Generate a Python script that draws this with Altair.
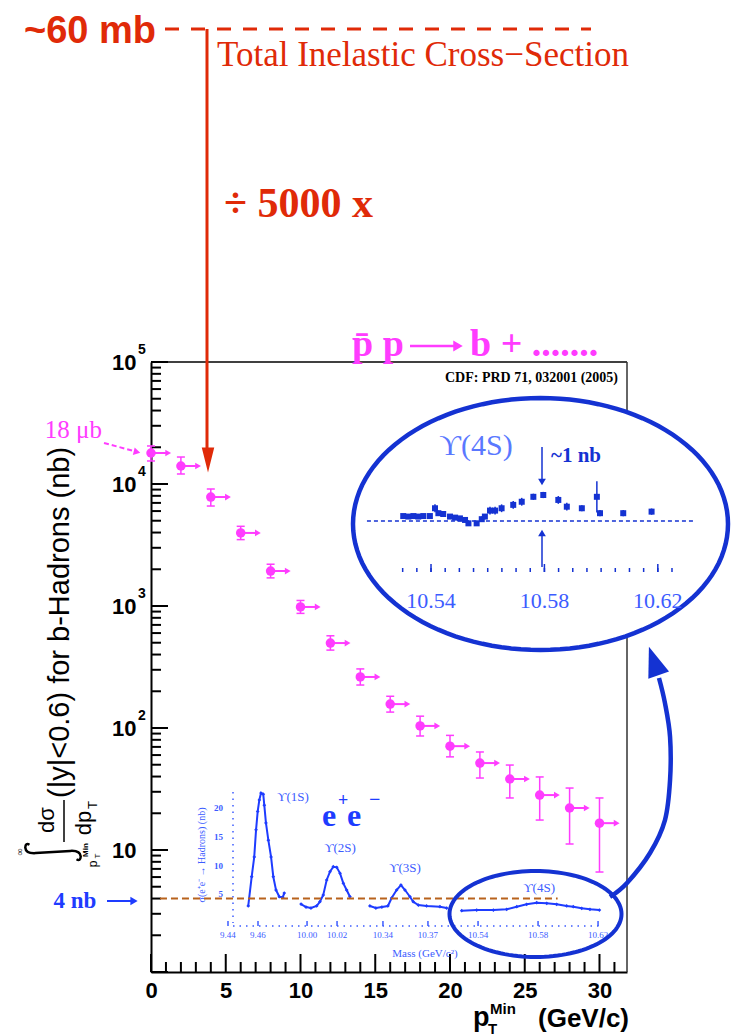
import math
import altair as alt
import pandas as pd

OX, OY, W, H = 151, 362, 476, 610
PAGE_W, PAGE_H = 731, 1036

# ---------------- main CDF measurement ----------------
pt_min = [0, 2, 4, 6, 8, 10, 12, 14, 16, 18, 20, 22, 24, 26, 28, 30]
xsec_nb = [17950, 14050, 7820, 3970, 1935, 982, 497, 262, 157, 104, 71, 51.6, 38.2, 28.2, 22.1, 16.6]
xsec_hi = [20500, 16640, 9100, 4500, 2200, 1110, 570, 305, 182, 125, 87, 63.6, 49.7, 39.7, 32.2, 26.7]
xsec_lo = [15440, 12080, 6600, 3500, 1700, 870, 435, 225, 135, 86, 58, 38.9, 26.7, 17.6, 11.2, 6.6]

x_major = [0, 5, 10, 15, 20, 25, 30]
x_minor = [1, 2, 3, 4, 6, 7, 8, 9, 11, 12, 13, 14, 16, 17, 18, 19, 21, 22, 23, 24, 26, 27, 28, 29, 31]
y_major = [1, 10, 100, 1000, 10000, 100000]
y_minor = [2, 3, 4, 5, 6, 7, 8, 9, 20, 30, 40, 50, 60, 70, 80, 90,
           200, 300, 400, 500, 600, 700, 800, 900,
           2000, 3000, 4000, 5000, 6000, 7000, 8000, 9000,
           20000, 30000, 40000, 50000, 60000, 70000, 80000, 90000]
y_label_vals = [10, 100, 1000, 10000, 100000]
y_exp_vals = [100, 1000, 10000, 100000]
y_exp_text = ["2", "3", "4", "5"]

# ---------------- e+e- inset (CLEO-like scan) ----------------
seg1_mass = [9.4535, 9.4558, 9.4575, 9.4587, 9.4598, 9.4609, 9.4620, 9.4635, 9.4642, 9.4653,
             9.4669, 9.4687, 9.4702, 9.4720, 9.4742, 9.4765, 9.4775]
seg1_sig = [2.96, 8.05, 11.5, 16.2, 19.4, 21.4, 22.6, 22.4, 20.5, 17.4, 14.4, 11.5, 8.05, 5.74, 4.57, 4.47, 5.2]
seg2_mass = [9.9960, 9.9993, 10.0026, 10.0064, 10.0086, 10.0108, 10.0131, 10.0153, 10.0175, 10.0198,
             10.0220, 10.0242, 10.0264, 10.0286]
seg2_sig = [3.30, 2.78, 2.61, 2.96, 3.70, 4.87, 7.48, 8.92, 9.79, 9.69, 8.64, 6.90, 5.74, 4.57]
seg3_mass = [10.3313, 10.3353, 10.3393, 10.3433, 10.3458, 10.3491, 10.3520, 10.3547, 10.3580, 10.3602,
             10.3636, 10.3691, 10.3780, 10.3825]
seg3_sig = [2.96, 2.61, 2.78, 2.96, 4.35, 5.74, 6.61, 5.74, 4.57, 3.70, 3.13, 2.96, 2.83, 2.61]
seg4_mass = [10.5291, 10.5391, 10.5502, 10.5591, 10.5658, 10.5724, 10.5791, 10.5858, 10.5924, 10.5991,
             10.6035, 10.6091, 10.6146, 10.6209]
seg4_sig = [2.14, 2.26, 2.26, 2.38, 2.83, 3.25, 3.53, 3.43, 3.25, 2.96, 2.83, 2.56, 2.38, 2.26]
seg_shift = {1: 0.0, 2: 0.5073, 3: 0.7967, 4: 0.9333}   # broken mass axis
inset_tick_mass = [9.44, 9.46, 10.00, 10.02, 10.34, 10.37, 10.54, 10.58, 10.62]
inset_tick_seg = [1, 1, 2, 2, 3, 3, 4, 4, 4]
inset_tick_text = ["9.44", "9.46", "10.00", "10.02", "10.34", "10.37", "10.54", "10.58", "10.62"]
inset_y_vals = [5, 10, 15, 20]
ups_names = ["ϒ(1S)", "ϒ(2S)", "ϒ(3S)", "ϒ(4S)"]
ups_label_mass = [9.4833, 10.0220, 10.3547, 10.5807]
ups_label_seg = [1, 2, 3, 4]
ups_label_sig = [21.9, 13.0, 9.6, 6.1]

# ---------------- zoomed Upsilon(4S) ----------------
z_mass = [10.5302, 10.5320, 10.5338, 10.5355, 10.5373, 10.5396, 10.5414, 10.5426, 10.5443, 10.5467,
          10.5485, 10.5502, 10.5520, 10.5532, 10.5561, 10.5579, 10.5590, 10.5608, 10.5626, 10.5649,
          10.5690, 10.5720, 10.5761, 10.5796, 10.5849, 10.5879, 10.5932, 10.5985, 10.5996, 10.6078, 10.6178]
z_sig = [4.19, 4.17, 4.19, 4.17, 4.19, 4.19, 4.49, 4.30, 4.27, 4.17, 4.13, 4.10, 4.04, 3.91, 3.91, 4.07,
         4.17, 4.40, 4.40, 4.49, 4.62, 4.74, 4.93, 5.00, 4.81, 4.55, 4.49, 4.93, 4.30, 4.30, 4.36]
z_err = [0.08, 0.08, 0.08, 0.08, 0.08, 0.08, 0.15, 0.1, 0.08, 0.08, 0.08, 0.08, 0.08, 0.1, 0.1, 0.1,
         0.1, 0.15, 0.15, 0.15, 0.15, 0.15, 0.12, 0.12, 0.15, 0.15, 0.12, 0.6, 0.12, 0.12, 0.12]
z_ticks = [10.530, 10.535, 10.540, 10.545, 10.550, 10.555, 10.560, 10.565, 10.570, 10.575,
           10.580, 10.585, 10.590, 10.595, 10.600, 10.605, 10.610, 10.615, 10.620, 10.625]
z_major = [10.54, 10.58, 10.62]
z_labels = ["10.54", "10.58", "10.62"]
z_base = 4.0

# connecting arrow (in main-plot units)
conn_pt = [30.70, 31.84, 33.38, 34.38, 34.72, 34.72, 34.38, 33.98]
conn_nb = [4.12, 5.37, 9.45, 17.6, 37.5, 84.4, 160, 257]

# ---------------- style ----------------
MAG = "#ff3cff"
RED = "#e02a08"
BLUE_E = "#1432d2"
BLUE_C = "#1e3cff"
BLUE_T = "#3c5cff"
BROWN = "#b8621c"
SANS = "Liberation Sans"
SERIF = "Liberation Serif"

XS = alt.Scale(domain=[0, 31.84], nice=False, zero=False)
YS = alt.Scale(type="log", domain=[1, 100000], nice=False)
XI = alt.Scale(domain=[9.38867, 9.70600], nice=False, zero=False)
YI = alt.Scale(domain=[-8.52, 97.57], nice=False, zero=False)
XB = alt.Scale(domain=[10.44123, 10.60913], nice=False, zero=False)
YB = alt.Scale(domain=[-13.346, 10.115], nice=False, zero=False)

ONE = pd.DataFrame({"k": [0]})


def X(f, s):
    return alt.X(f, type="quantitative", scale=s, axis=None)


def Y(f, s):
    return alt.Y(f, type="quantitative", scale=s, axis=None)


def pv(x):
    return alt.value(x - OX)


def qv(y):
    return alt.value(y - OY)


def text(s, x, y, size, color, font=SERIF, weight="normal", align="left", baseline="alphabetic", angle=0):
    kw = dict(text=s, fontSize=size, font=font, fontWeight=weight, color=color, align=align, baseline=baseline)
    if angle:
        kw["angle"] = angle
    return alt.Chart(ONE).mark_text(**kw).encode(x=pv(x), y=qv(y))


def seg(x1, y1, x2, y2, color, width, dash=None):
    kw = dict(color=color, strokeWidth=width)
    if dash:
        kw["strokeDash"] = dash
    return alt.Chart(ONE).mark_rule(**kw).encode(x=pv(x1), y=qv(y1), x2=pv(x2), y2=qv(y2))


def head(x, y, shape, size, color, angle=0):
    kw = dict(shape=shape, size=size, filled=True, color=color, opacity=1)
    if angle:
        kw["angle"] = angle
    return alt.Chart(ONE).mark_point(**kw).encode(x=pv(x), y=qv(y))


def ellipse_shape(aspect, n=120):
    pts = []
    for i in range(n):
        t = 2 * math.pi * i / n
        pts.append(f"{math.cos(t):.4f},{aspect * math.sin(t):.4f}")
    return "M" + "L".join(pts) + "Z"


# integral sign lying on its side (the y title is rotated)
INTEGRAL = ("M-0.84,-0.26 Q-0.98,-0.34 -0.99,-0.16 Q-0.97,0.06 -0.62,0.04 "
            "L0.62,-0.04 Q0.97,-0.06 0.99,0.16 Q0.98,0.34 0.84,0.26")

layers = []

# frame (top and right)
layers.append(alt.Chart(ONE).mark_rule(color="black", strokeWidth=1.5).encode(x=alt.value(0), x2=alt.value(W), y=alt.value(0)))
layers.append(alt.Chart(ONE).mark_rule(color="#333333", strokeWidth=1.5).encode(x=alt.value(W), y=alt.value(0), y2=alt.value(H)))

# inward ticks
layers.append(alt.Chart(pd.DataFrame({"v": x_major})).mark_rule(color="black", strokeWidth=2)
              .encode(x=X("v", XS), y=alt.value(H), y2=alt.value(H - 18)))
layers.append(alt.Chart(pd.DataFrame({"v": x_minor})).mark_rule(color="black", strokeWidth=2)
              .encode(x=X("v", XS), y=alt.value(H), y2=alt.value(H - 10)))
layers.append(alt.Chart(pd.DataFrame({"v": y_major})).mark_rule(color="black", strokeWidth=2)
              .encode(y=Y("v", YS), x=alt.value(0), x2=alt.value(17)))
layers.append(alt.Chart(pd.DataFrame({"v": y_minor})).mark_rule(color="black", strokeWidth=2)
              .encode(y=Y("v", YS), x=alt.value(0), x2=alt.value(10)))

# main data
main = pd.DataFrame({"pt": pt_min, "xs": xsec_nb, "hi": xsec_hi, "lo": xsec_lo})
main["arr_end"] = main["pt"] + 1.0
main["arr_head"] = main["pt"] + 1.15

x_axis = alt.Axis(values=x_major, title=None, ticks=False, grid=False, labelFontSize=22, labelFont=SANS,
                  labelFontWeight="bold", labelColor="black", labelPadding=8, labelFlush=False,
                  domainColor="black", domainWidth=2, labelOverlap=False)
y_axis = alt.Axis(values=y_label_vals, labelExpr="'10'", title=None, ticks=False, grid=False, labelFontSize=22,
                  labelFont=SANS, labelFontWeight="bold", labelColor="black", labelPadding=15, labelFlush=False,
                  domainColor="black", domainWidth=2, labelOverlap=False)

base = alt.Chart(main)
layers.append(base.mark_rule(color=MAG, strokeWidth=1.5).encode(x=X("pt", XS), y=Y("lo", YS), y2="hi"))
layers.append(base.mark_tick(orient="horizontal", size=8, thickness=1.5, color=MAG, opacity=1).encode(x=X("pt", XS), y=Y("lo", YS)))
layers.append(base.mark_tick(orient="horizontal", size=8, thickness=1.5, color=MAG, opacity=1).encode(x=X("pt", XS), y=Y("hi", YS)))
layers.append(base.mark_rule(color=MAG, strokeWidth=2).encode(x=X("pt", XS), x2="arr_end", y=Y("xs", YS)))
layers.append(base.mark_point(shape="triangle-right", size=45, filled=True, color=MAG, opacity=1)
              .encode(x=X("arr_head", XS), y=Y("xs", YS)))
layers.append(base.mark_point(shape="circle", size=90, filled=True, color=MAG, opacity=1)
              .encode(x=alt.X("pt", type="quantitative", scale=XS, axis=x_axis),
                      y=alt.Y("xs", type="quantitative", scale=YS, axis=y_axis)))

# exponents of y labels
layers.append(alt.Chart(pd.DataFrame({"v": y_exp_vals, "t": y_exp_text}))
              .mark_text(fontSize=14, font=SANS, fontWeight="bold", align="left", baseline="middle", dy=-12, color="black")
              .encode(x=alt.value(-13), y=Y("v", YS), text="t:N"))

# ---------------- inset ----------------
rows = []
for s_id, ms, ss in [(1, seg1_mass, seg1_sig), (2, seg2_mass, seg2_sig), (3, seg3_mass, seg3_sig), (4, seg4_mass, seg4_sig)]:
    for i, (m, s) in enumerate(zip(ms, ss)):
        rows.append({"seg": s_id, "i": i, "mass": m, "sig": s, "u": m - seg_shift[s_id]})
inset = pd.DataFrame(rows)

# inset axes (dotted)
layers.append(seg(233, 792, 233, 923, BLUE_T, 1.5, [1.5, 5]))
layers.append(seg(233, 926, 600, 926, BLUE_T, 1.5, [1.5, 5]))
itk = pd.DataFrame({"m": inset_tick_mass, "seg": inset_tick_seg, "t": inset_tick_text})
itk["u"] = [m - seg_shift[s] for m, s in zip(inset_tick_mass, inset_tick_seg)]
layers.append(alt.Chart(itk).mark_rule(color=BLUE_T, strokeWidth=1.5)
              .encode(x=X("u", XI), y=alt.value(926 - OY), y2=alt.value(921 - OY)))
layers.append(alt.Chart(itk).mark_text(fontSize=9, font=SERIF, color=BLUE_T, baseline="middle", align="center")
              .encode(x=X("u", XI), y=alt.value(935 - OY), text="t:N"))
layers.append(alt.Chart(pd.DataFrame({"v": inset_y_vals, "t": [str(v) for v in inset_y_vals]}))
              .mark_text(fontSize=9, font=SERIF, fontWeight="bold", color=BLUE_T, baseline="middle", align="right")
              .encode(x=alt.value(223 - OX), y=Y("v", YI), text="t:N"))
layers.append(text("σ(e⁺e⁻ → Hadrons) (nb)", 202, 855, 10, BLUE_T, angle=270, align="center", baseline="middle"))
layers.append(text("Mass (GeV/c²)", 425, 954, 11, BLUE_T, align="center", baseline="middle"))

layers.append(alt.Chart(inset).mark_line(color=BLUE_C, strokeWidth=2)
              .encode(x=X("u", XI), y=Y("sig", YI), detail="seg:N", order="i:Q"))
layers.append(alt.Chart(inset).mark_point(shape="diamond", size=14, filled=True, color=BLUE_C, opacity=1)
              .encode(x=X("u", XI), y=Y("sig", YI)))

ups = pd.DataFrame({"t": ups_names, "m": ups_label_mass, "seg": ups_label_seg, "s": ups_label_sig})
ups["u"] = [m - seg_shift[s] for m, s in zip(ups_label_mass, ups_label_seg)]
layers.append(alt.Chart(ups).mark_text(fontSize=13, font=SERIF, color=BLUE_T, align="center", baseline="middle")
              .encode(x=X("u", XI), y=Y("s", YI), text="t:N"))

# e+e- label
layers.append(text("e", 322, 826, 32, BLUE_C, weight="bold"))
layers.append(text("+", 338, 806, 18, BLUE_C, weight="bold"))
layers.append(text("e", 347, 826, 32, BLUE_C, weight="bold"))
layers.append(text("−", 369, 806, 20, BLUE_C, weight="bold"))

# brown 4 nb line
layers.append(alt.Chart(pd.DataFrame({"a": [0.6], "b": [27.2], "y": [4.0]}))
              .mark_rule(color=BROWN, strokeWidth=2, strokeDash=[7, 4])
              .encode(x=X("a", XS), x2="b", y=Y("y", YS)))

# 4 nb annotation
layers.append(text("4 nb", 75, 901, 23, BLUE_C, weight="bold", align="center", baseline="middle"))
layers.append(seg(107, 901, 131, 901, BLUE_C, 2))
layers.append(head(134, 901, "triangle-right", 70, BLUE_C))

# small ellipse
layers.append(alt.Chart(ONE).mark_point(shape=ellipse_shape(0.5), size=172 ** 2, filled=False, color=BLUE_E,
                                        strokeWidth=4, opacity=1)
              .encode(x=pv(535.5), y=qv(914)))

# ---------------- big zoom ellipse ----------------
layers.append(alt.Chart(ONE).mark_point(shape=ellipse_shape(0.672), size=375 ** 2, filled=True, fill="white",
                                        stroke=BLUE_E, strokeWidth=4.5, opacity=1, fillOpacity=1, strokeOpacity=1)
              .encode(x=pv(540.5), y=qv(524)))

layers.append(alt.Chart(pd.DataFrame({"a": [10.5174], "b": [10.6331], "y": [z_base]}))
              .mark_rule(color=BLUE_E, strokeWidth=1.5, strokeDash=[4, 3])
              .encode(x=X("a", XB), x2="b", y=Y("y", YB)))
zdf = pd.DataFrame({"m": z_mass, "s": z_sig, "e": z_err})
zdf["lo"] = zdf["s"] - zdf["e"]
zdf["hi"] = zdf["s"] + zdf["e"]
layers.append(alt.Chart(zdf).mark_rule(color=BLUE_E, strokeWidth=1.5)
              .encode(x=X("m", XB), y=Y("lo", YB), y2="hi"))
layers.append(alt.Chart(zdf).mark_point(shape="square", size=36, filled=True, color=BLUE_E, opacity=1)
              .encode(x=X("m", XB), y=Y("s", YB)))
layers.append(alt.Chart(pd.DataFrame({"m": z_ticks})).mark_rule(color=BLUE_E, strokeWidth=1.5)
              .encode(x=X("m", XB), y=alt.value(572 - OY), y2=alt.value(568 - OY)))
layers.append(alt.Chart(pd.DataFrame({"m": z_major})).mark_rule(color=BLUE_E, strokeWidth=1.5)
              .encode(x=X("m", XB), y=alt.value(572 - OY), y2=alt.value(564 - OY)))
layers.append(alt.Chart(pd.DataFrame({"m": z_major, "t": z_labels}))
              .mark_text(fontSize=22, font=SERIF, color=BLUE_T, align="center", baseline="middle")
              .encode(x=X("m", XB), y=alt.value(601 - OY), text="t:N"))
layers.append(text("ϒ(4S)", 476, 446, 30, "#5a78ff", align="center", baseline="middle"))
layers.append(text("~1 nb", 551, 456, 21, BLUE_E, weight="bold", align="left", baseline="middle"))
layers.append(seg(542, 447, 542, 480, BLUE_E, 1.5))
layers.append(head(542, 482, "triangle-down", 60, BLUE_E))
layers.append(seg(542, 567, 542, 536, BLUE_E, 1.5))
layers.append(head(542, 533, "triangle-up", 60, BLUE_E))

# connecting arrow
conn = pd.DataFrame({"x": conn_pt, "y": conn_nb, "i": list(range(len(conn_pt)))})
layers.append(alt.Chart(conn).mark_line(color=BLUE_E, strokeWidth=4.5, interpolate="cardinal")
              .encode(x=X("x", XS), y=Y("y", YS), order="i:Q"))
layers.append(head(653.8, 661, "M0,-1L0.73,1L-0.73,1Z", 900, BLUE_E, angle=341))

# ---------------- red annotation ----------------
layers.append(text("~60 mb", 24, 43, 38, RED, font=SANS, weight="bold"))
layers.append(seg(165, 29, 591, 29, RED, 3, [14, 12]))
layers.append(seg(207, 29, 207, 452, RED, 3))
layers.append(head(208, 460, "M-0.5,-1L0.5,-1L0,1Z", 625, RED))
layers.append(text("Total Inelastic Cross−Section", 217, 66, 35, RED))
layers.append(text("÷ 5000 x", 224, 217, 42, RED, weight="bold"))

# ---------------- magenta annotation ----------------
layers.append(text("p̄ p", 352, 356, 38, MAG, weight="bold"))
layers.append(seg(410, 346, 454, 346, MAG, 2.5))
layers.append(head(458, 346, "triangle-right", 120, MAG))
layers.append(text("b + .......", 470, 356, 38, MAG, weight="bold"))
layers.append(text("18 μb", 102, 430, 25, MAG, align="right", baseline="middle"))
layers.append(seg(104, 443, 134, 451, MAG, 2, [5, 3]))
layers.append(head(137, 452, "triangle-right", 60, MAG, angle=14))
layers.append(text("CDF: PRD 71, 032001 (2005)", 618, 378, 14, "black", weight="bold", align="right", baseline="middle"))

# ---------------- y title ----------------
layers.append(text("(|y|<0.6) for b-Hadrons  (nb)", 60, 798, 29, "black", font=SANS, angle=270, align="left", baseline="middle"))
layers.append(text("dσ", 47, 820, 22, "black", font=SANS, angle=270, align="center", baseline="middle"))
layers.append(seg(64, 800, 64, 842, "black", 1.5))
layers.append(text("dp", 84, 823, 22, "black", font=SANS, angle=270, align="center", baseline="middle"))
layers.append(text("T", 93, 805, 13, "black", font=SANS, angle=270, align="center", baseline="middle"))
layers.append(alt.Chart(ONE).mark_point(shape=INTEGRAL, size=56 ** 2, filled=False, color="black",
                                        strokeWidth=2.5, opacity=1)
              .encode(x=pv(53), y=qv(852)))
layers.append(text("∞", 20, 852, 10, "black", angle=270, align="center", baseline="middle"))
layers.append(text("p", 93, 864, 12, "black", font=SANS, angle=270, align="center", baseline="middle"))
layers.append(text("Min", 86, 850, 8, "black", font=SANS, weight="bold", angle=270, align="center", baseline="middle"))
layers.append(text("T", 98, 856, 8, "black", font=SANS, angle=270, align="center", baseline="middle"))

# ---------------- x title ----------------
layers.append(text("p", 473, 1026, 27, "black", font=SANS, weight="bold"))
layers.append(text("T", 488, 1034, 15, "black", font=SANS, weight="bold"))
layers.append(text("Min", 490, 1014, 15, "black", font=SANS, weight="bold"))
layers.append(text("(GeV/c)", 538, 1027, 26, "black", font=SANS, weight="bold"))

chart = (
    alt.layer(*layers)
    .resolve_scale(x="independent", y="independent")
    .properties(
        width=W,
        height=H,
        autosize=alt.AutoSizeParams(type="none"),
        padding={"left": OX, "top": OY, "right": PAGE_W - OX - W, "bottom": PAGE_H - OY - H},
        background="white",
    )
    .configure_view(stroke=None)
)

chart.save("out.html", embed_options={"renderer": "svg", "actions": False})
